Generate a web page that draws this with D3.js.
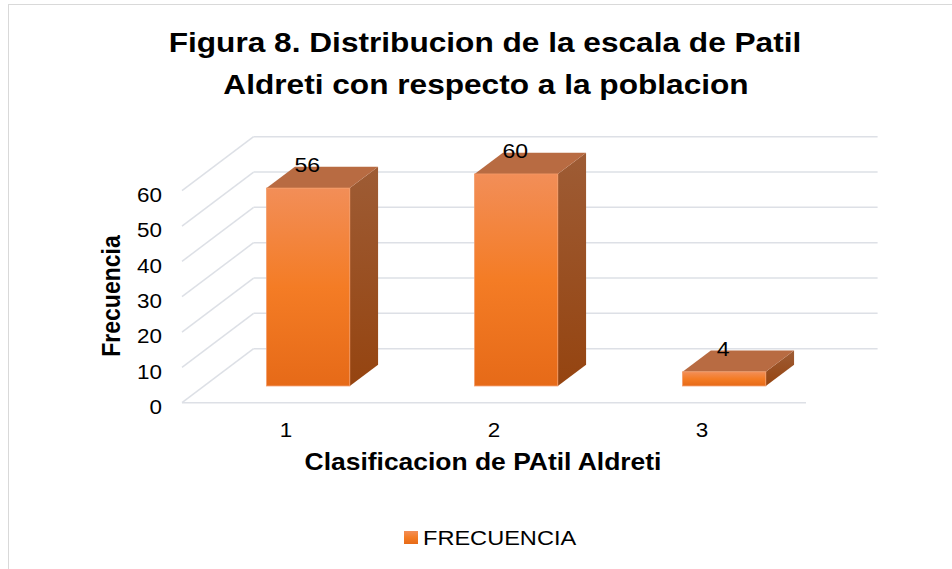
<!DOCTYPE html>
<html>
<head>
<meta charset="utf-8">
<script src="https://cdn.jsdelivr.net/npm/d3@7"></script>
<style>
  html, body { margin: 0; padding: 0; background: #fff; }
  svg { display: block; font-family: "Liberation Sans", Arial, sans-serif; }
</style>
</head>
<body>
<svg id="chart" width="952" height="569"></svg>
<script>
// ---- data ----
const categories = ["1", "2", "3"];
const values = [56, 60, 4];
const yTicks = [0, 10, 20, 30, 40, 50, 60];
const seriesName = "FRECUENCIA";
const titleLines = ["Figura 8. Distribucion de la escala de Patil", "Aldreti con respecto a la poblacion"];
const xTitle = "Clasificacion de PAtil Aldreti";
const yTitle = "Frecuencia";

// ---- layout ----
const SX = 1.15; // horizontal text stretch seen in reference
const svg = d3.select("#chart");
const floorFrontY = 402.7;
const depth = { dx: 71.6, dy: -54 };
const barFront = 0.31, barBack = 0.705;

const x = d3.scaleBand().domain(categories).range([182, 806]).paddingInner(0.6).paddingOuter(0.3);
const y = d3.scaleLinear().domain([0, 60]).range([floorFrontY, 190.7]);

// chart border
svg.append("rect").attr("x", 8.5).attr("y", 4.5).attr("width", 1000).attr("height", 1000)
  .attr("fill", "#fff").attr("stroke", "#d9d9d9").attr("stroke-width", 1);

// gradients
const defs = svg.append("defs");
const gf = defs.append("linearGradient").attr("id", "gFront").attr("x1", 0).attr("y1", 0).attr("x2", 0).attr("y2", 1);
gf.append("stop").attr("offset", "0%").attr("stop-color", "#F28E58");
gf.append("stop").attr("offset", "50%").attr("stop-color", "#F47C25");
gf.append("stop").attr("offset", "100%").attr("stop-color", "#E66A18");
const gs = defs.append("linearGradient").attr("id", "gSide").attr("x1", 0).attr("y1", 0).attr("x2", 0).attr("y2", 1);
gs.append("stop").attr("offset", "0%").attr("stop-color", "#9E5C35");
gs.append("stop").attr("offset", "100%").attr("stop-color", "#954410");

// gridlines: back wall + left wall
const grid = svg.append("g").attr("stroke", "#dde0e6").attr("stroke-width", 1.5).attr("fill", "none");
const x0 = x.range()[0], x1 = x.range()[1];
yTicks.forEach(v => {
  const yf = y(v);
  grid.append("line").attr("x1", x0 + depth.dx).attr("y1", yf + depth.dy)
    .attr("x2", x1 + depth.dx).attr("y2", yf + depth.dy);
  grid.append("line").attr("x1", x0).attr("y1", yf)
    .attr("x2", x0 + depth.dx).attr("y2", yf + depth.dy);
});
// floor front edge
grid.append("line").attr("x1", x0).attr("y1", floorFrontY).attr("x2", x1).attr("y2", floorFrontY);

// bars
const bars = svg.append("g");
categories.forEach((c, i) => {
  const v = values[i];
  const fx = x(c) + barFront * depth.dx;
  const fyOff = barFront * depth.dy;
  const bw = x.bandwidth();
  const ddx = (barBack - barFront) * depth.dx;
  const ddy = (barBack - barFront) * depth.dy;
  const yb = y(0) + fyOff, yt = y(v) + fyOff;
  const g = bars.append("g");
  // side face
  g.append("path").attr("d", `M${fx + bw},${yb} L${fx + bw + ddx},${yb + ddy} L${fx + bw + ddx},${yt + ddy} L${fx + bw},${yt} Z`)
    .attr("fill", "url(#gSide)");
  // top face
  g.append("path").attr("d", `M${fx},${yt} L${fx + ddx},${yt + ddy} L${fx + bw + ddx},${yt + ddy} L${fx + bw},${yt} Z`)
    .attr("fill", "#B86B42");
  // front face
  g.append("rect").attr("x", fx).attr("y", yt).attr("width", bw).attr("height", yb - yt)
    .attr("fill", "url(#gFront)").attr("stroke", "#F39A66").attr("stroke-width", 0.8);
  // value label
  g.append("text").attr("transform", `translate(${fx + bw / 2 - 1},${yt - 16}) scale(${SX},1)`)
    .attr("text-anchor", "middle").attr("font-size", 20).attr("fill", "#000").text(v);
});

// y axis labels
const yAxisG = svg.append("g").attr("transform", "translate(162,4)")
  .call(d3.axisLeft(y).tickValues(yTicks).tickSize(0).tickPadding(0));
yAxisG.select(".domain").remove();
yAxisG.selectAll("text").attr("x", 0).attr("dy", "0.35em").attr("text-anchor", "end")
  .attr("transform", `scale(${SX},1)`).attr("font-size", 19.5)
  .attr("font-family", "Liberation Sans, Arial, sans-serif").attr("fill", "#000");

// x axis labels
const xAxisG = svg.append("g").attr("transform", "translate(0,437)")
  .call(d3.axisBottom(x).tickSize(0).tickPadding(0));
xAxisG.select(".domain").remove();
xAxisG.selectAll("text").attr("y", 0).attr("dy", 0).attr("text-anchor", "middle")
  .attr("transform", `scale(${SX},1)`).attr("font-size", 19.5)
  .attr("font-family", "Liberation Sans, Arial, sans-serif").attr("fill", "#000");

// axis titles
svg.append("text").attr("transform", `translate(483,469.5) scale(${SX},1)`)
  .attr("text-anchor", "middle").attr("font-size", 23).attr("font-weight", "bold").text(xTitle);
svg.append("text").attr("transform", `translate(120,296) scale(${SX},1) rotate(-90)`)
  .attr("text-anchor", "middle").attr("font-size", 23).attr("font-weight", "bold").text(yTitle);

// title
const TSX = 1.11;
svg.append("text").attr("transform", `translate(485,52) scale(${TSX},1)`)
  .attr("text-anchor", "middle").attr("font-size", 28.5).attr("font-weight", "bold").text(titleLines[0]);
svg.append("text").attr("transform", `translate(486,94) scale(${TSX},1)`)
  .attr("text-anchor", "middle").attr("font-size", 28.5).attr("font-weight", "bold").text(titleLines[1]);

// legend
const leg = svg.append("g");
leg.append("rect").attr("x", 404).attr("y", 531).attr("width", 14).attr("height", 13).attr("fill", "url(#gFront)");
leg.append("text").attr("transform", `translate(423,545) scale(${SX},1)`)
  .attr("font-size", 20.5).attr("fill", "#000").text(seriesName);
</script>
</body>
</html>
